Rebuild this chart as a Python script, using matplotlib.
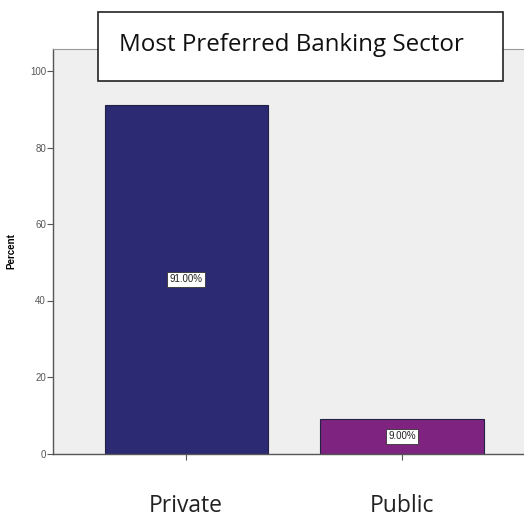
import matplotlib.pyplot as plt
from matplotlib.patches import Rectangle

sectors = ['Private', 'Public']
percent = [91.0, 9.0]
bar_colors = ['#2b2a72', '#7e2480']
title = 'Most Preferred Banking Sector'

plt.rcParams['font.family'] = ['Open Sans', 'DejaVu Sans']

fig = plt.figure(figsize=(5.24, 5.19), dpi=100)
ax = fig.add_axes([53/524, 1-453.5/519, (527-53)/524, (453.5-49)/519])
ax.set_facecolor('#efefef')

x = list(range(len(sectors)))
ax.bar(x, percent, width=0.755, color=bar_colors, edgecolor='#222244', linewidth=0.8)
for xi, v in zip(x, percent):
    ax.text(xi, v / 2, f'{v:.2f}%', ha='center', va='center', fontsize=7,
            family='Liberation Sans', color='#222222',
            bbox=dict(boxstyle='square,pad=0.25', fc='white', ec='#333333', lw=0.6))

ax.set_xlim(-0.616, 1 + (527-402)/216)
ax.set_ylim(0, (453.5-49)/3.825)
ax.set_yticks([0, 20, 40, 60, 80, 100])
ax.tick_params(axis='y', labelsize=7, labelcolor='#555555', length=4, width=0.8, color='#555555', pad=1)
for lab in ax.get_yticklabels():
    lab.set_family('Liberation Sans')
ax.set_xticks(x)
ax.set_xticklabels(sectors, fontsize=16.5, color='#222222')
ax.tick_params(axis='x', length=4, width=0.8, color='#555555', pad=25)
ax.set_ylabel('Percent', fontsize=7, fontweight='bold', family='Liberation Sans', labelpad=10)

for s in ['left', 'bottom']:
    ax.spines[s].set_color('#555555')
    ax.spines[s].set_linewidth(1.0)
ax.spines['top'].set_color('#999999')
ax.spines['top'].set_linewidth(0.8)
ax.spines['right'].set_visible(False)

# title box
fig.patches.append(Rectangle((98/524, 1-81/519), (503-98)/524, (81-12)/519,
                             transform=fig.transFigure, fc='white', ec='#222222', lw=1.2, zorder=5))
fig.text(291/524, 1-45/519, title, ha='center', va='center', fontsize=17.4, color='#111111', zorder=6)

fig.savefig('out.png', dpi=100)
